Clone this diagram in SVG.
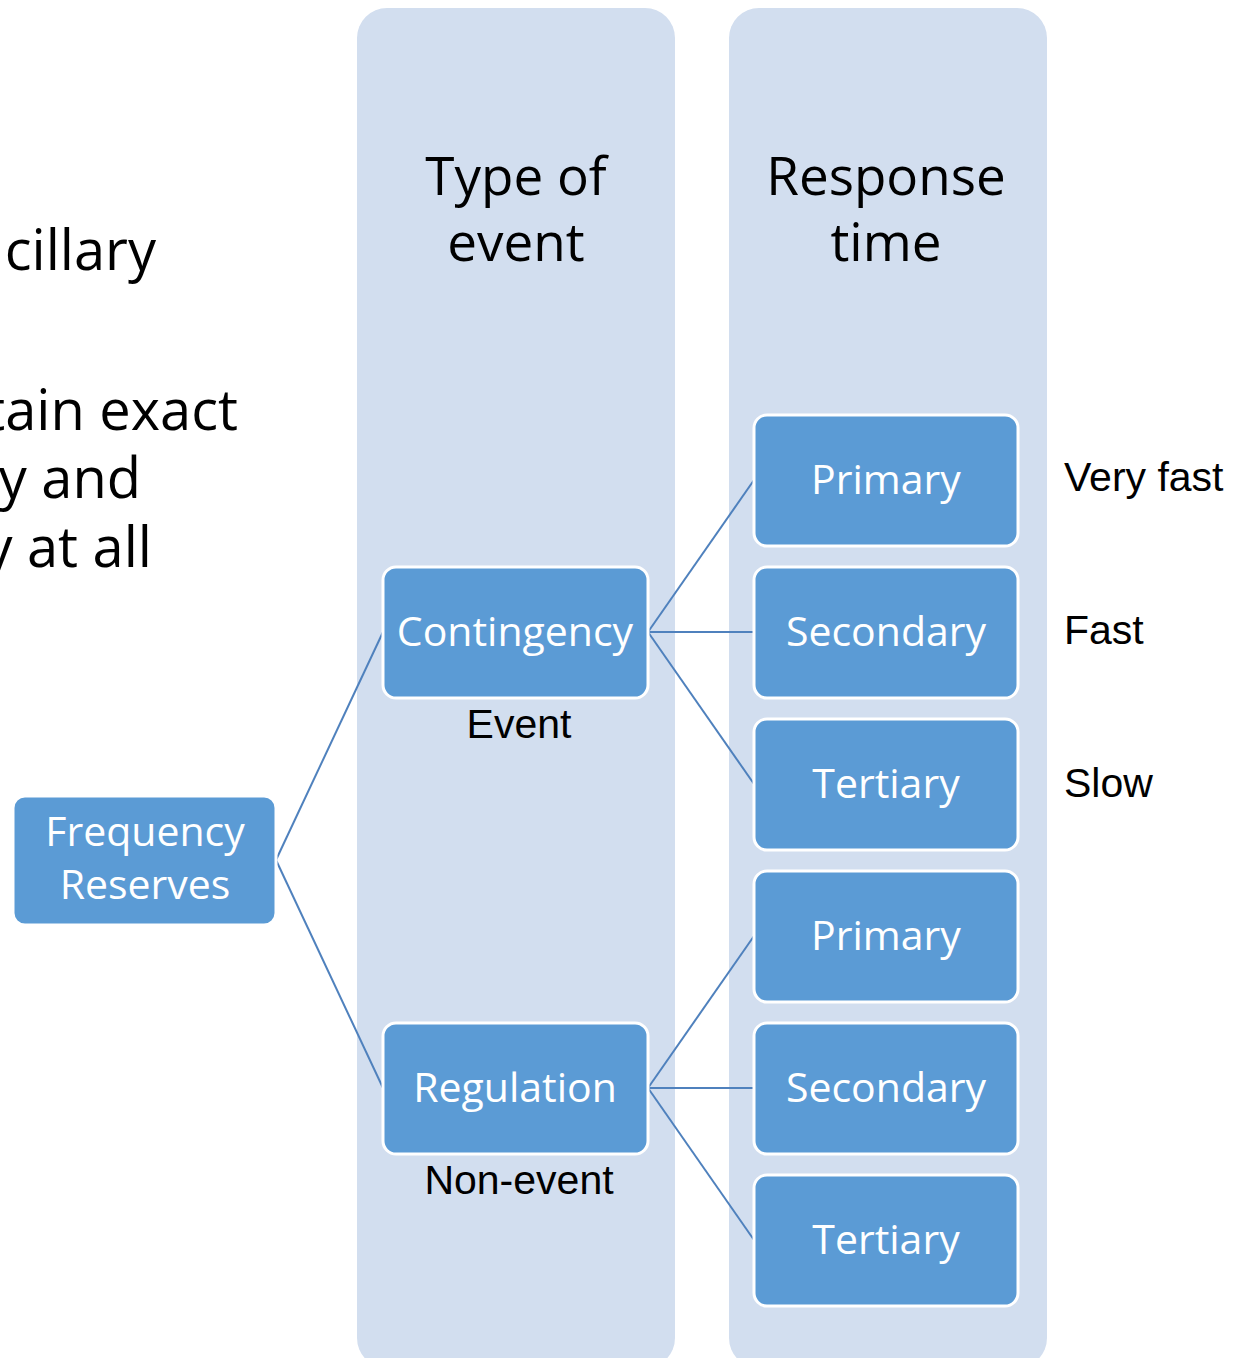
<svg xmlns="http://www.w3.org/2000/svg" width="1240" height="1358" viewBox="0 0 1240 1358">
  <style>
    .col { fill: #D2DEEF; }
    .node rect { fill: #5B9BD5; stroke: #FFFFFF; stroke-width: 3; }
    .node text { fill: #FFFFFF; font-family: "Open Sans", "Noto Sans", sans-serif; font-size: 41px; text-anchor: middle; }
    .head { fill: #000000; font-family: "Open Sans", "Noto Sans", sans-serif; font-size: 53px; text-anchor: middle; }
    .side { fill: #000000; font-family: "Open Sans", "Noto Sans", sans-serif; font-size: 56px; text-anchor: end; }
    .note { fill: #000000; font-family: "Liberation Sans", Arial, sans-serif; font-size: 41px; }
    .links line { stroke: #4F81BD; stroke-width: 2; }
  </style>

  <rect width="1240" height="1358" fill="#FFFFFF"/>

  <!-- partially visible body text on the left -->
  <g id="side-text">
    <text class="side" x="156" y="270">cillary</text>
    <text class="side" x="238" y="430">tain exact</text>
    <text class="side" x="141" y="498">y and</text>
    <text class="side" x="152" y="567">y at all</text>
  </g>

  <!-- background columns -->
  <g id="column-type">
    <rect class="col" x="357" y="8" width="318" height="1360" rx="30" ry="30"/>
    <text class="head" x="516" y="195">Type of</text>
    <text class="head" x="516" y="261">event</text>
  </g>
  <g id="column-response">
    <rect class="col" x="729" y="8" width="318" height="1360" rx="30" ry="30"/>
    <text class="head" x="886" y="195">Response</text>
    <text class="head" x="886" y="261">time</text>
  </g>

  <!-- connectors -->
  <g id="connectors" class="links">
    <line x1="276" y1="860" x2="383" y2="632"/>
    <line x1="276" y1="860" x2="383" y2="1088"/>
    <line x1="648" y1="632" x2="754" y2="480"/>
    <line x1="648" y1="632" x2="754" y2="632"/>
    <line x1="648" y1="632" x2="754" y2="784"/>
    <line x1="648" y1="1088" x2="754" y2="936"/>
    <line x1="648" y1="1088" x2="754" y2="1088"/>
    <line x1="648" y1="1088" x2="754" y2="1240"/>
  </g>

  <!-- nodes -->
  <g id="frequency-reserves" class="node">
    <rect x="13" y="796" width="263" height="129" rx="12" ry="12"/>
    <text x="145" y="846">Frequency</text>
    <text x="145" y="899">Reserves</text>
  </g>

  <g id="contingency" class="node">
    <rect x="383" y="567" width="265" height="131" rx="13" ry="13"/>
    <text x="515" y="646">Contingency</text>
  </g>
  <text class="note" x="519" y="738" text-anchor="middle">Event</text>

  <g id="regulation" class="node">
    <rect x="383" y="1023" width="265" height="131" rx="13" ry="13"/>
    <text x="515" y="1102">Regulation</text>
  </g>
  <text class="note" x="519" y="1194" text-anchor="middle">Non-event</text>

  <g id="contingency-primary" class="node">
    <rect x="754" y="415" width="264" height="131" rx="13" ry="13"/>
    <text x="886" y="494">Primary</text>
  </g>
  <g id="contingency-secondary" class="node">
    <rect x="754" y="567" width="264" height="131" rx="13" ry="13"/>
    <text x="886" y="646">Secondary</text>
  </g>
  <g id="contingency-tertiary" class="node">
    <rect x="754" y="719" width="264" height="131" rx="13" ry="13"/>
    <text x="886" y="798">Tertiary</text>
  </g>
  <g id="regulation-primary" class="node">
    <rect x="754" y="871" width="264" height="131" rx="13" ry="13"/>
    <text x="886" y="950">Primary</text>
  </g>
  <g id="regulation-secondary" class="node">
    <rect x="754" y="1023" width="264" height="131" rx="13" ry="13"/>
    <text x="886" y="1102">Secondary</text>
  </g>
  <g id="regulation-tertiary" class="node">
    <rect x="754" y="1175" width="264" height="131" rx="13" ry="13"/>
    <text x="886" y="1254">Tertiary</text>
  </g>

  <!-- response-time labels -->
  <g id="speed-labels">
    <text class="note" x="1064" y="491">Very fast</text>
    <text class="note" x="1064" y="644">Fast</text>
    <text class="note" x="1064" y="797">Slow</text>
  </g>
</svg>
